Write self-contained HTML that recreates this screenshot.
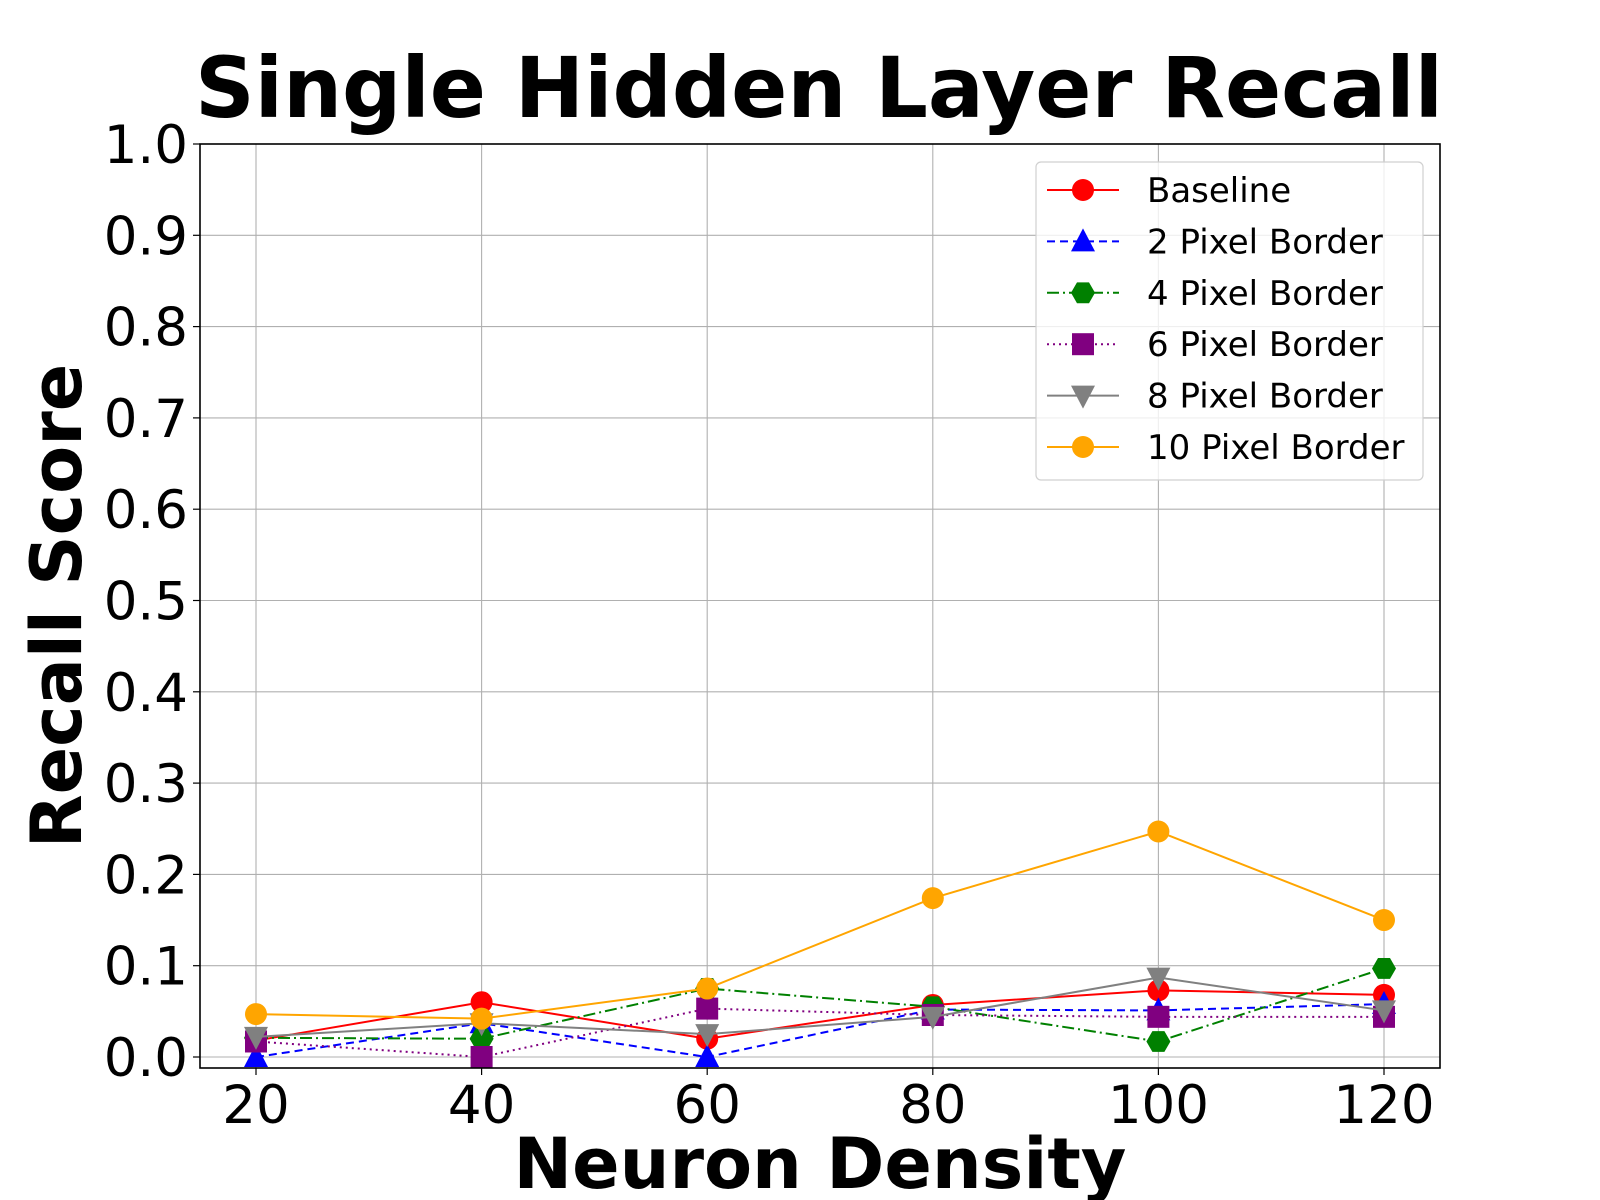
<!DOCTYPE html>
<html><head><meta charset="utf-8"><style>
html,body{margin:0;padding:0;background:#fff;}
svg{display:block;font-family:"DejaVu Sans","Liberation Sans",sans-serif;}
</style></head><body>
<svg id="chart" width="1600" height="1200" xmlns="http://www.w3.org/2000/svg">
<text x="819" y="117" font-size="84" font-weight="bold" text-anchor="middle" textLength="1248" lengthAdjust="spacingAndGlyphs">Single Hidden Layer Recall</text>
<g id="grid"></g>
<g id="series"></g>
<rect x="200" y="144" width="1240" height="924" fill="none" stroke="#000" stroke-width="1.6"/>
<g id="ticks"></g>
<text x="820" y="1188" font-size="70" font-weight="bold" text-anchor="middle">Neuron Density</text>
<text transform="translate(81,606) rotate(-90)" font-size="70" font-weight="bold" text-anchor="middle">Recall Score</text>
<g id="legend"></g>
</svg>
<script>
const categories=[20,40,60,80,100,120];
const baseline=[0.018,0.060,0.020,0.057,0.073,0.068];
const px2=[0.0,0.037,0.0,0.052,0.051,0.058];
const px4=[0.021,0.020,0.075,0.055,0.017,0.097];
const px6=[0.017,0.0,0.053,0.046,0.044,0.044];
const px8=[0.022,0.037,0.025,0.044,0.087,0.051];
const px10=[0.047,0.042,0.075,0.174,0.247,0.150];
const yTicks=[0,0.1,0.2,0.3,0.4,0.5,0.6,0.7,0.8,0.9,1.0];
const yTickLabels=["0.0","0.1","0.2","0.3","0.4","0.5","0.6","0.7","0.8","0.9","1.0"];
const seriesNames=["Baseline","2 Pixel Border","4 Pixel Border","6 Pixel Border","8 Pixel Border","10 Pixel Border"];

const NS="http://www.w3.org/2000/svg";
function X(v){return 256+(v-20)*(1384-256)/100;}
function Y(v){return 1057-v*913;}
function mk(tag,attrs,parent){const e=document.createElementNS(NS,tag);for(const k in attrs)e.setAttribute(k,attrs[k]);parent.appendChild(e);return e;}
const grid=document.getElementById('grid'),ticks=document.getElementById('ticks'),ser=document.getElementById('series'),leg=document.getElementById('legend');
categories.forEach((c)=>{
  const l=mk('line',{x1:X(c),x2:X(c),y1:144,y2:1068,stroke:'#b0b0b0','stroke-width':1.1},grid);
  
  
  const t=mk('line',{x1:X(c),x2:X(c),y1:1068,y2:1075,stroke:'#000','stroke-width':1.2},ticks);
  
  
  const tx=mk('text',{x:X(c),y:1123,'font-size':53,'text-anchor':'middle'},ticks);tx.textContent=c;
  
  
});
yTicks.forEach((v,i)=>{
  const l=mk('line',{x1:200,x2:1440,y1:Y(v),y2:Y(v),stroke:'#b0b0b0','stroke-width':1.1},grid);
  
  
  const t=mk('line',{x1:193,x2:200,y1:Y(v),y2:Y(v),stroke:'#000','stroke-width':1.2},ticks);
  
  
  const tx=mk('text',{x:188,y:Y(v)+19,'font-size':53,'text-anchor':'end'},ticks);tx.textContent=yTickLabels[i];
  
  
});
const styles=[
 {d:baseline,c:'#ff0000',dash:'',m:'circle'},
 {d:px2,c:'#0000ff',dash:'8,5',m:'tri'},
 {d:px4,c:'#008000',dash:'12,4,2,4',m:'hex'},
 {d:px6,c:'#800080',dash:'2,4',m:'square'},
 {d:px8,c:'#808080',dash:'',m:'tridown'},
 {d:px10,c:'#ffa500',dash:'',m:'circle'}];
function marker(type,x,y,c,parent){
  let e;const r=11;
  if(type==='circle')e=mk('circle',{cx:x,cy:y,r:r,fill:c},parent);
  else if(type==='square')e=mk('rect',{x:x-11,y:y-11,width:22,height:22,fill:c},parent);
  else if(type==='tri')e=mk('polygon',{points:`${x},${y-13} ${x-12},${y+10} ${x+12},${y+10}`,fill:c},parent);
  else if(type==='tridown')e=mk('polygon',{points:`${x},${y+13} ${x-12},${y-10} ${x+12},${y-10}`,fill:c},parent);
  else {let p=[];for(let k=0;k<6;k++){const a=Math.PI/3*k;p.push((x+12*Math.cos(a))+','+(y+12*Math.sin(a)));}e=mk('polygon',{points:p.join(' '),fill:c},parent);}
  return e;
}
styles.forEach((s,si)=>{
  const g=mk('g',{},ser);
  
  
  const pts=categories.map((c,i)=>X(c)+','+Y(s.d[i])).join(' ');
  const pl=mk('polyline',{points:pts,fill:'none',stroke:s.c,'stroke-width':2,'stroke-dasharray':s.dash},g);
  
  
  categories.forEach((c,i)=>{
    const m=marker(s.m,X(c),Y(s.d[i]),s.c,g);
    
    
  });
  const ly=190+si*51.4;
  const le=mk('g',{},leg);
  
  
  mk('line',{x1:1047,x2:1119,y1:ly,y2:ly,stroke:s.c,'stroke-width':2,'stroke-dasharray':s.dash},le);
  marker(s.m,1083,ly,s.c,le);
  const t=mk('text',{x:1147,y:ly+12,'font-size':34},le);t.textContent=seriesNames[si];
});
const box=mk('rect',{x:1036,y:162,width:387,height:318,rx:5,fill:'#fff','fill-opacity':0.8,stroke:'#d0d0d0','stroke-width':1.2},leg);
leg.insertBefore(box,leg.firstChild);


</script>
</body></html>
